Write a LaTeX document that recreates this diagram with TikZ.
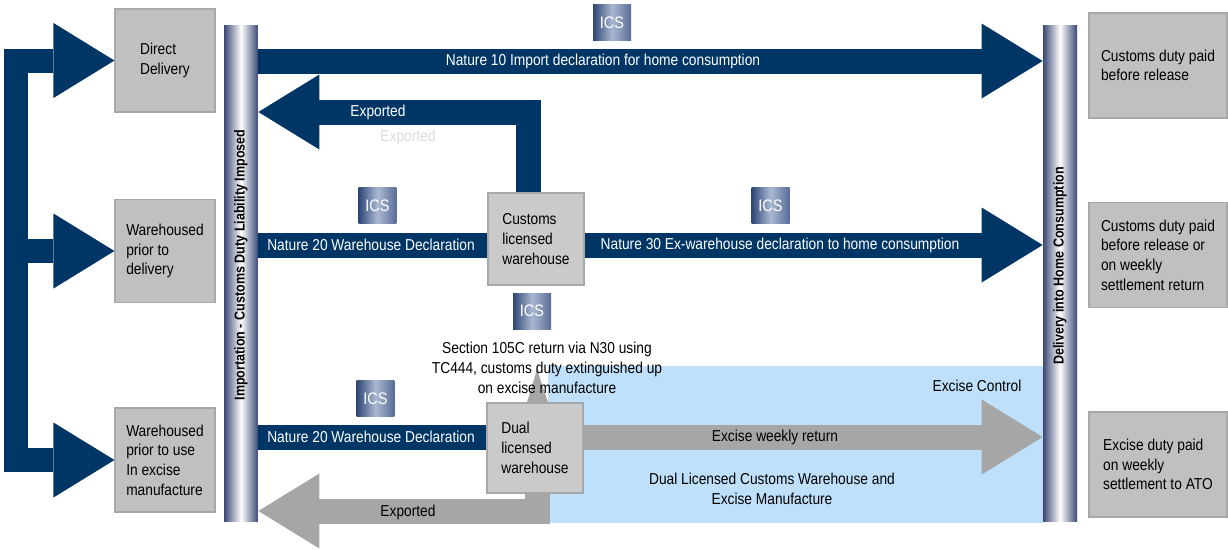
\documentclass[tikz,border=0pt]{standalone}
\usepackage{fontspec}
\setmainfont{Liberation Sans}[FakeStretch=0.87]
\usetikzlibrary{arrows.meta}
\definecolor{navy}{RGB}{0,54,102}
\definecolor{arrowgray}{RGB}{166,166,166}
\definecolor{boxgray}{RGB}{192,192,192}
\definecolor{whgray}{RGB}{202,202,202}
\definecolor{boxedge}{RGB}{168,168,168}
\definecolor{excisebg}{RGB}{190,224,250}
\definecolor{baredge}{RGB}{58,72,118}
\definecolor{icsdark}{RGB}{46,70,118}
\definecolor{icslight}{RGB}{170,184,210}
\definecolor{icsmid}{RGB}{88,108,150}
\newcommand{\boxfont}{\fontsize{9}{11.2}\selectfont}
\newcommand{\barfont}{\fontsize{8.2}{9}\selectfont\bfseries}
\begin{document}
\begin{tikzpicture}[x=0.02cm,y=-0.02cm,
  gbox/.style={fill=boxgray,draw=boxedge,line width=0.6pt,align=left,font=\boxfont,minimum width=2cm,minimum height=2.06cm},
  rbox/.style={gbox,minimum width=2.76cm,minimum height=2.1cm},
  whbox/.style={gbox,fill=whgray,minimum width=1.92cm,minimum height=1.84cm},
  ics/.style={left color=icsdark,right color=icsmid,middle color=icslight,minimum width=0.76cm,minimum height=0.72cm,inner sep=0pt,text=white,font=\fontsize{9.5}{10}\selectfont},
  bar/.style={left color=baredge,right color=baredge,middle color=white,minimum width=0.68cm,minimum height=9.94cm,inner sep=0pt},
  bartext/.style={font=\barfont,inner sep=0pt},
  onbar/.style={text=white,font=\boxfont,inner sep=0pt},
  plain/.style={font=\boxfont,inner sep=0pt,align=center},
  bigarrow/.style={line width=0.5cm,-{Triangle[length=1.22cm,width=1.5cm,line width=0pt]}},
  navybar/.style={navy,line width=0.5cm}]
\useasboundingbox (0,0) rectangle (1228,549);
\coordinate (spine) at (16,0);
\coordinate (r1) at (0,61);
\coordinate (r2) at (0,245);
\coordinate (r3) at (0,437);
\coordinate (r4) at (0,511);
\coordinate (r5) at (0,112);

\node[bar] (imp) at (241,273.5) {};
\node[bar] (home) at (1060,273.5) {};

\fill[excisebg] (548,366) rectangle (home.west |- 0,523);

\node[gbox] (dd) at (165,60.5) {Direct\\Delivery};
\node[gbox] (wd) at (165,251) {Warehoused\\prior to\\delivery};
\node[gbox,minimum height=2.08cm] (wm) at (165,460) {Warehoused\\prior to use\\In excise\\manufacture};
\node[whbox] (cw) at (536,239) {Customs\\licensed\\warehouse};
\node[whbox,minimum height=1.8cm] (dl) at (535,448) {Dual\\licensed\\warehouse};

\draw[navy,bigarrow,{Triangle[length=1.22cm,width=1.5cm,line width=0pt]}-{Triangle[length=1.22cm,width=1.5cm,line width=0pt]},line width=0.48cm] (dd.west) -| (spine |- wm.west) -- (wm.west);
\draw[navy,bigarrow,line width=0.48cm] (spine |- wd.west) -- (wd.west);

\draw[navy,bigarrow] (imp.east |- r1) -- (home.west |- r1);
\draw[navy,bigarrow] ([xshift=-0.16cm]cw.north) |- (imp.east |- r5);
\draw[navybar] (imp.east |- r2) -- (cw.west |- r2);
\draw[navy,bigarrow] (cw.east |- r2) -- (home.west |- r2);
\draw[navybar] (imp.east |- r3) -- (dl.west |- r3);
\draw[arrowgray,bigarrow] (dl.east |- r3) -- (home.west |- r3);
\draw[arrowgray,bigarrow] ([xshift=0.05cm]dl.south) |- (imp.east |- r4);
\fill[arrowgray] ([xshift=-0.16cm]dl.north) -- ([xshift=0.26cm]dl.north) -- ([xshift=0.04cm,yshift=0.66cm]dl.north) -- cycle;

\node[bartext,rotate=90] (impl) at (241,265) {Importation - Customs Duty Liability Imposed};
\node[bartext,rotate=90] (homel) at (1060,266) {Delivery into Home Consumption};

\node[rbox] (relbox) at (1158,65.5) {Customs duty paid\\before release};
\node[rbox] (weekbox) at (1158,255) {Customs duty paid\\before release or\\on weekly\\settlement return};
\node[rbox] (atobox) at (1158,464.5) {Excise duty paid\\on weekly\\settlement to ATO};

\node[ics] (ics1) at (612,22.5) {ICS};
\node[ics] (ics2) at (377.5,205.5) {ICS};
\node[ics] (ics3) at (770.5,205.5) {ICS};
\node[ics] (ics4) at (532,311) {ICS};
\node[ics] (ics5) at (375.5,398.5) {ICS};

\node[onbar] (n10) at (603,61) {Nature 10 Import declaration for home consumption};
\node[onbar] (exp1) at (378,112) {Exported};
\node[plain,text=black!14] (exp1s) at (408,137) {Exported};
\node[onbar] (n20a) at (371,245) {Nature 20 Warehouse Declaration};
\node[onbar] (n30) at (780,245) {Nature 30 Ex-warehouse declaration to home consumption};
\node[plain] (sec) at (547,368) {Section 105C return via N30 using\\TC444, customs duty extinguished up\\on excise manufacture};
\node[plain] (ctrl) at (977,386) {Excise Control};
\node[onbar] (n20b) at (371,437) {Nature 20 Warehouse Declaration};
\node[plain] (ewr) at (775,437) {Excise weekly return};
\node[plain] (dlcw) at (772,489) {Dual Licensed Customs Warehouse and\\Excise Manufacture};
\node[plain] (exp2) at (408,512) {Exported};
\end{tikzpicture}
\end{document}
